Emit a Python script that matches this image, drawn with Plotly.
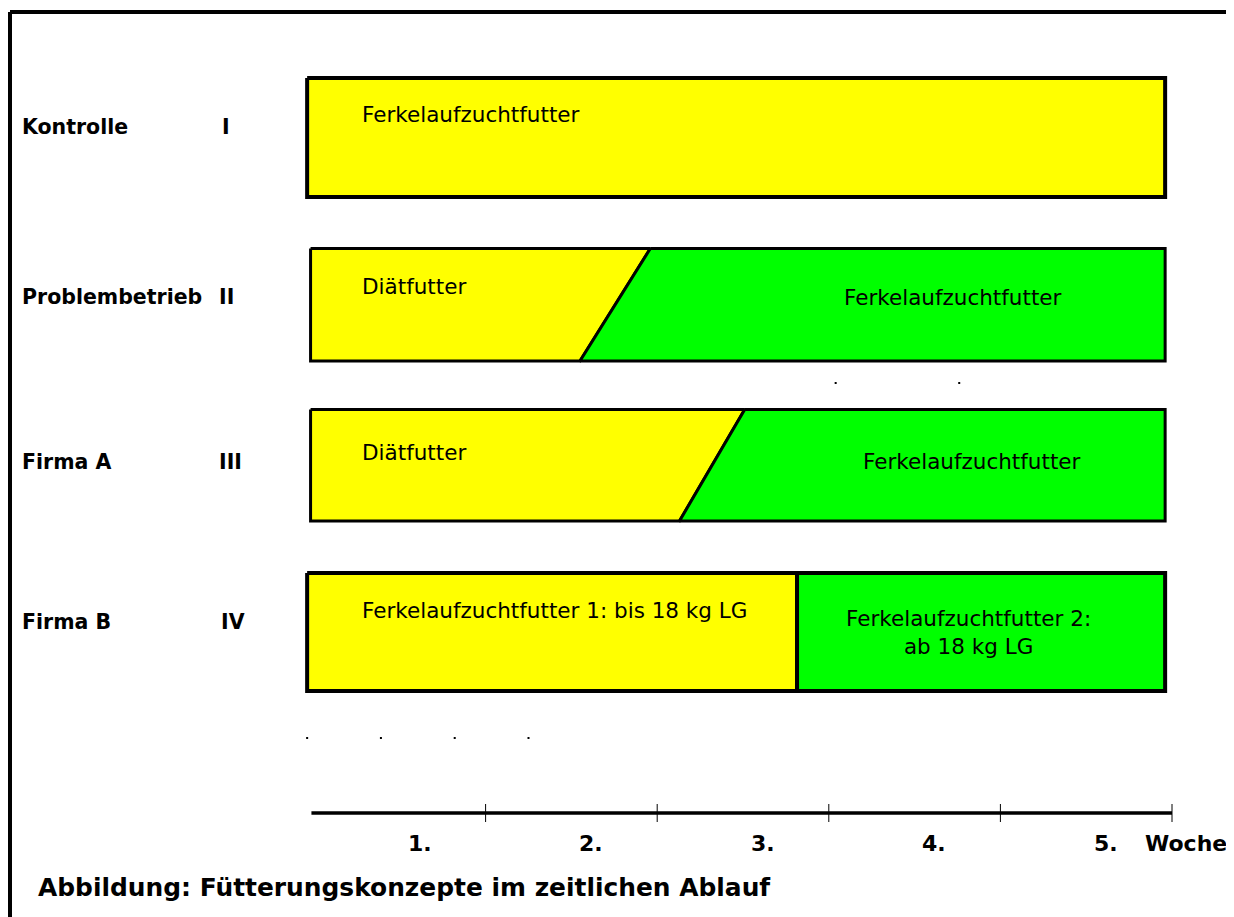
import plotly.graph_objects as go

# ---------------- data ----------------
groups = ["Kontrolle", "Problembetrieb", "Firma A", "Firma B"]
roman = ["I", "II", "III", "IV"]
# time in weeks
bar_start = [-0.04, -0.02, -0.02, -0.04]
bar_end = [4.96, 4.96, 4.96, 4.96]
switch_top = [None, 1.96, 2.51, 2.815]     # end of first feed (top edge)
switch_bottom = [None, 1.55, 2.13, 2.815]  # end of first feed (bottom edge)
feed1_text = ["Ferkelaufzuchtfutter", "Diätfutter", "Diätfutter",
              "Ferkelaufzuchtfutter 1: bis 18 kg LG"]
feed2_text = [None, "Ferkelaufzuchtfutter", "Ferkelaufzuchtfutter",
              "Ferkelaufzuchtfutter 2:<br>ab 18 kg LG"]
weeks = [1, 2, 3, 4, 5]
week_labels = ["1.", "2.", "3.", "4.", "5."]
axis_unit = "Woche"
caption = "Abbildung: Fütterungskonzepte im zeitlichen Ablauf"
stray_x = [3.04, 3.76, -0.04, 0.39, 0.82, 1.25]
stray_y_row = [383, 383, 738, 738, 738, 738]

# ---------------- layout constants (reference pixels) ----------------
W, H = 1234, 917
OFF = 8                           # page offset of the plot div
PX0, PXW = 314.0, 171.6          # pixel of week 0, pixels per week
row_top = [78, 248.5, 409.5, 573]
row_bot = [197, 361, 521, 691]
border_w = [4, 3, 3, 4]
label_y = [127, 297, 462, 622]
roman_x = [220, 217, 217, 219]
f1_pos = [(0.27, 114), (0.27, 286), (0.27, 452), (0.27, 610)]
f2_pos = [None, (3.075, 297, "left"), (3.19, 461, "left"), (3.815, 632, "center")]
axis_y = 813
YELLOW, GREEN = "#FFFF00", "#00FF00"
FONT = "DejaVu Sans"


def px(x):
    return (x - OFF) / W


def py(y):
    return 1 - (y - OFF) / H


fig = go.Figure()

for i in range(4):
    t, b = row_top[i], row_bot[i]
    if switch_top[i] is None:
        fig.add_trace(go.Scatter(
            x=[bar_start[i], bar_end[i], bar_end[i], bar_start[i], bar_start[i]],
            y=[t, t, b, b, t], mode="lines", fill="toself", fillcolor=YELLOW,
            line=dict(color="black", width=border_w[i]), hoverinfo="skip"))
    else:
        st, sb = switch_top[i], switch_bottom[i]
        fig.add_trace(go.Scatter(
            x=[bar_start[i], st, sb, bar_start[i], bar_start[i]],
            y=[t, t, b, b, t], mode="lines", fill="toself", fillcolor=YELLOW,
            line=dict(color="black", width=border_w[i]), hoverinfo="skip"))
        fig.add_trace(go.Scatter(
            x=[st, bar_end[i], bar_end[i], sb, st],
            y=[t, t, b, b, t], mode="lines", fill="toself", fillcolor=GREEN,
            line=dict(color="black", width=border_w[i]), hoverinfo="skip"))

# time axis line and ticks
fig.add_trace(go.Scatter(x=[-0.015, 5.0], y=[axis_y, axis_y], mode="lines",
                         line=dict(color="black", width=3.5), hoverinfo="skip"))
for w in weeks:
    fig.add_trace(go.Scatter(x=[w, w], y=[axis_y - 9, axis_y + 9], mode="lines",
                             line=dict(color="black", width=1), hoverinfo="skip"))

# stray dots
fig.add_trace(go.Scatter(x=stray_x, y=stray_y_row, mode="markers",
                         marker=dict(color="black", size=2, symbol="square"),
                         hoverinfo="skip"))

ann = []
for i in range(4):
    ann.append(dict(x=px(20), y=py(label_y[i]), xref="paper", yref="paper",
                    text=groups[i], showarrow=False, xanchor="left", yanchor="middle",
                    font=dict(family=FONT, size=20.5, color="black", weight="bold")))
    ann.append(dict(x=px(roman_x[i]), y=py(label_y[i]), xref="paper", yref="paper",
                    text=roman[i], showarrow=False, xanchor="left", yanchor="middle",
                    font=dict(family=FONT, size=20.5, color="black", weight="bold")))
    fx, fy = f1_pos[i]
    ann.append(dict(x=fx, y=fy, xref="x", yref="y", text=feed1_text[i],
                    showarrow=False, xanchor="left", yanchor="middle",
                    font=dict(family=FONT, size=21.5, color="black")))
    if feed2_text[i]:
        gx, gy, al = f2_pos[i]
        ann.append(dict(x=gx, y=gy, xref="x", yref="y", text=feed2_text[i],
                        showarrow=False, xanchor=al, yanchor="middle", align="center",
                        font=dict(family=FONT, size=21.5, color="black")))

for w, lab in zip(weeks, week_labels):
    ann.append(dict(x=w - 0.385, y=843, xref="x", yref="y", text=lab, showarrow=False,
                    xanchor="center", yanchor="middle",
                    font=dict(family=FONT, size=22, color="black", weight="bold")))
ann.append(dict(x=4.83, y=843, xref="x", yref="y", text=axis_unit, showarrow=False,
                xanchor="left", yanchor="middle",
                font=dict(family=FONT, size=22, color="black", weight="bold")))
ann.append(dict(x=px(36), y=py(887), xref="paper", yref="paper", text=caption,
                showarrow=False, xanchor="left", yanchor="middle",
                font=dict(family=FONT, size=24.9, color="black", weight="bold")))

shapes = [
    dict(type="line", xref="paper", yref="paper", x0=px(10), x1=px(10),
         y0=py(12), y1=-0.05, line=dict(color="black", width=4)),
    dict(type="line", xref="paper", yref="paper", x0=px(10), x1=1.05,
         y0=py(12), y1=py(12), line=dict(color="black", width=4)),
]

fig.update_layout(
    width=W, height=H, margin=dict(l=0, r=0, t=0, b=0),
    paper_bgcolor="white", plot_bgcolor="white", showlegend=False,
    xaxis=dict(range=[(OFF - PX0) / PXW, (OFF + W - PX0) / PXW],
               visible=False, fixedrange=True),
    yaxis=dict(range=[H + OFF, OFF], visible=False, fixedrange=True),
    annotations=ann, shapes=shapes,
)

fig.write_html("out.html")
